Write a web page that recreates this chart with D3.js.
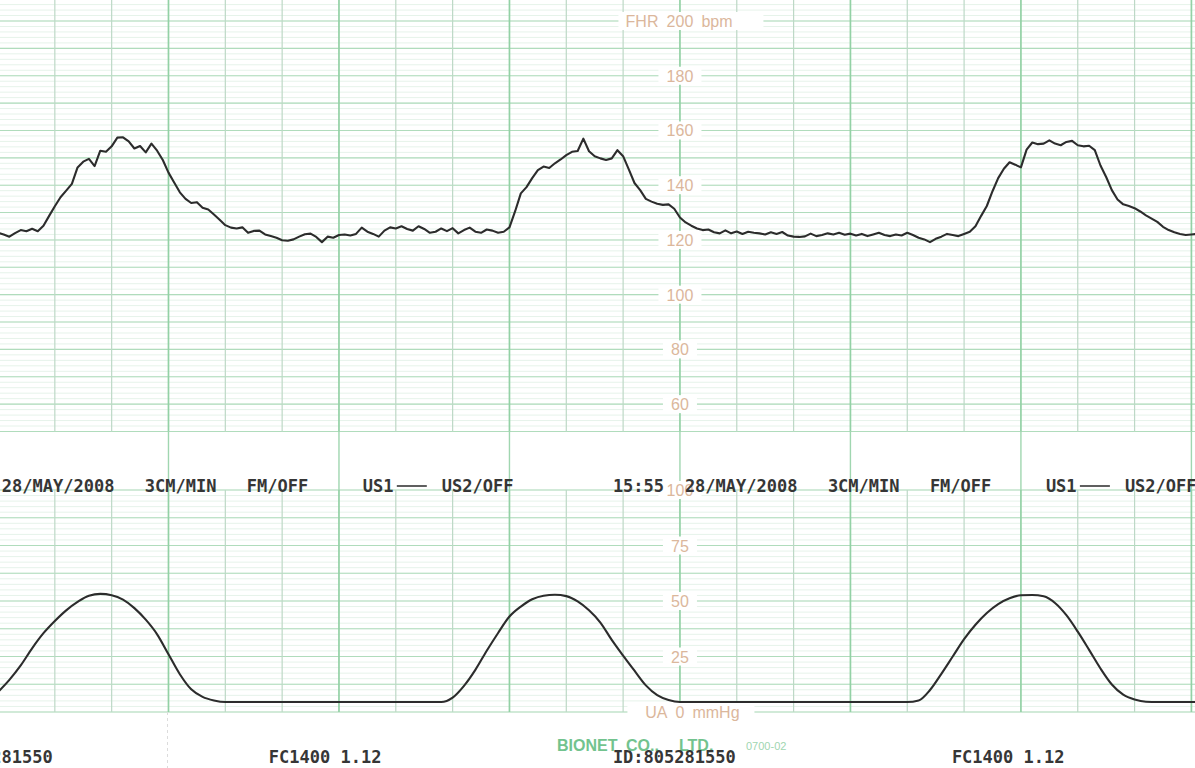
<!DOCTYPE html>
<html>
<head>
<meta charset="utf-8">
<script src="https://cdn.jsdelivr.net/npm/d3@7"></script>
<style>
  body { margin: 0; background: #fff; }
  svg { display: block; }
</style>
</head>
<body>
<div id="chart"></div>
<script>
const w = 1195;
const h = 768;

// FHR trace, one sample every 2 s (bpm)
const fhrStep = 2;
const fhrBpm = [
  122.6, 122, 121.2, 122.5, 123.6, 123.2, 124.1, 123.2, 125.2, 128.8,
  132.3, 135.6, 138, 140.5, 146.5, 148.6, 149.6, 147, 152.6, 152.2,
  154.2, 157.4, 157.5, 156, 153.4, 154.3, 152, 155.2, 152.6, 149.2,
  144.6, 141, 137.4, 135, 133.5, 133.8, 131.8, 131.1, 129.3, 127.4,
  125.4, 124.5, 124.2, 124.6, 122.6, 123.3, 123.4, 122, 121.4, 120.8,
  119.9, 119.7, 120.2, 121.2, 122.1, 122.3, 121.1, 119.2, 121.2, 120.8,
  121.8, 122, 121.6, 122.2, 124.5, 123, 122.2, 121.2, 123.4, 124.6,
  124.2, 125, 124, 123.4, 125, 124, 122.6, 123, 124.2, 123.2,
  124.3, 122.4, 123.6, 124.5, 123, 122.6, 123.8, 123.4, 122.6, 123,
  124.6, 130.5, 137, 139.3, 142.6, 145.5, 146.8, 146.3, 148, 149.4,
  151, 152.2, 152.5, 157, 152.4, 150.6, 149.8, 149.2, 149.8, 152.8,
  150.6, 145.8, 140.8, 138.2, 135, 134, 133.2, 132.8, 133, 131.4,
  128.2, 126.4, 125.2, 124.2, 123.6, 123.8, 122.8, 122.4, 123.5, 122.4,
  123.1, 122.2, 123, 122.6, 122.4, 122, 122.8, 122.2, 122.9, 121.6,
  121.2, 121.1, 121.3, 122.3, 121.4, 121.8, 122.4, 122, 122.6, 121.9,
  122.3, 121.6, 122.2, 121.4, 122, 122.6, 121.8, 121.4, 122, 121.6,
  122.6, 121.8, 120.8, 120.2, 119.2, 120.4, 121.2, 122.2, 121.8, 121.4,
  122.2, 123, 125, 128.8, 132.4, 137.8, 142.6, 146, 148.4, 147.5,
  146.5, 153, 155.6, 155, 155.2, 156.4, 155.2, 154.6, 155.8, 156.2,
  154.6, 154.2, 154.4, 152.8, 147.2, 143, 138.2, 134.8, 133, 132.4,
  131.6, 130.4, 129, 127.8, 126.6, 124.8, 123.6, 122.8, 122.2, 121.8,
  122, 122.2
];

// uterine activity, one sample every 4 s (mmHg)
const uaStep = 4;
const uaMmHg = [
  9, 14.5, 21, 28.7, 35.5, 41, 45.8, 49.6, 52.4, 53.2,
  52.6, 50.6, 46.8, 41.6, 35, 26, 17, 10.2, 6.8, 5.2,
  4.5, 4.5, 4.5, 4.5, 4.5, 4.5, 4.5, 4.5, 4.5, 4.5,
  4.5, 4.5, 4.5, 4.5, 4.5, 4.5, 4.5, 4.5, 4.5, 4.5,
  6.5, 11.8, 19, 27.6, 35.6, 43, 47.5, 50.8, 52.4, 52.8,
  52.2, 49.8, 45.8, 40.3, 32.5, 25.4, 18.6, 12, 7.6, 5.4,
  4.5, 4.5, 4.5, 4.5, 4.5, 4.5, 4.5, 4.5, 4.5, 4.5,
  4.5, 4.5, 4.5, 4.5, 4.5, 4.5, 4.5, 4.5, 4.5, 4.5,
  4.5, 5.2, 9.9, 17.2, 25, 32.8, 39.3, 44.6, 48.6, 51.2,
  52.6, 52.7, 52.1, 49.1, 43.6, 36.2, 28, 19.6, 12.4, 7.8,
  5.6, 4.6, 4.5, 4.5, 4.5, 4.5, 4.5
];

// scale labels printed on the paper
const fhrTicks = [200, 180, 160, 140, 120, 100, 80, 60];
const uaTicks = [100, 75, 50, 25, 0];

// printer annotations (seconds where each stamp starts)
const stampTimes = [-24, 216.4];
const stampClock = ['15:51', '15:55'];
const headerFields = ['28/MAY/2008', '3CM/MIN', 'FM/OFF', 'US1', 'US2/OFF'];
const footerFields = ['ID:805281550', 'FC1400 1.12'];

// layout
const headerOffsets = [72, 215, 317, 433, 512];
const footerOffsets = [0, 339];
const labelTime = 240;

const svg = d3
  .select('#chart')
  .append('svg')
  .attr('width', w)
  .attr('height', h)
  .style('background-color', '#fff');

const x = d3.scaleLinear().domain([0, 421.3]).range([-2, 1195.1]);
const yF = d3.scaleLinear().domain([50, 200]).range([431.5, 21]);
const yU = d3.scaleLinear().domain([0, 100]).range([712, 490]);

const grid = svg.append('g').attr('id', 'grid');

// faint 1 mm lines
grid
  .selectAll('line.fF')
  .data(d3.range(50, 208, 2))
  .enter()
  .append('line')
  .attr('x1', 0)
  .attr('x2', w)
  .attr('y1', d => yF(d))
  .attr('y2', d => yF(d))
  .attr('stroke', '#e6f3ea')
  .attr('stroke-width', 1);

grid
  .selectAll('line.fU')
  .data(d3.range(0, 101, 2.5))
  .enter()
  .append('line')
  .attr('x1', 0)
  .attr('x2', w)
  .attr('y1', d => yU(d))
  .attr('y2', d => yU(d))
  .attr('stroke', '#e6f3ea')
  .attr('stroke-width', 1);

// half-cm lines
grid
  .selectAll('line.mF')
  .data(d3.range(50, 208, 10))
  .enter()
  .append('line')
  .attr('x1', 0)
  .attr('x2', w)
  .attr('y1', d => yF(d))
  .attr('y2', d => yF(d))
  .attr('stroke', '#b0dcbc')
  .attr('stroke-width', 1.1);

grid
  .selectAll('line.mU')
  .data(d3.range(0, 101, 12.5))
  .enter()
  .append('line')
  .attr('x1', 0)
  .attr('x2', w)
  .attr('y1', d => yU(d))
  .attr('y2', d => yU(d))
  .attr('stroke', '#b0dcbc')
  .attr('stroke-width', 1.1);

// vertical lines, every 20 s, heavier every minute
const vTimes = d3.range(0, 422, 20);
vTimes.forEach(t => {
  const major = t % 60 === 0;
  const col = major ? '#93d1a5' : '#bdd8c6';
  const sw = major ? 1.7 : 1.2;
  grid.append('line')
    .attr('x1', x(t)).attr('x2', x(t))
    .attr('y1', 0).attr('y2', yF(50))
    .attr('stroke', col).attr('stroke-width', sw);
  grid.append('line')
    .attr('x1', x(t)).attr('x2', x(t))
    .attr('y1', yU(100)).attr('y2', yU(0))
    .attr('stroke', col).attr('stroke-width', sw);
  if (major) {
    grid.append('line')
      .attr('x1', x(t)).attr('x2', x(t))
      .attr('y1', yF(50)).attr('y2', yU(100))
      .attr('stroke', '#a0d6b0').attr('stroke-width', 1.4);
  }
});

// fold perforation below the paper grid
svg.append('line')
  .attr('x1', x(60) - 1).attr('x2', x(60) - 1)
  .attr('y1', yU(0)).attr('y2', h)
  .attr('stroke', '#dcdcdc')
  .attr('stroke-dasharray', '3,3');

// scale labels on the 4-minute line
const labelColor = '#dbb79c';
const lx = x(labelTime);
const labels = svg.append('g').attr('id', 'scale-labels')
  .style('font-family', '"Liberation Sans", Arial, sans-serif')
  .style('font-size', '16px')
  .attr('fill', labelColor);

function scaleLabel(yPos, val, pre, post) {
  const half = String(val).length * 4.5;
  let left = lx - half - 8;
  let right = lx + half + 8;
  if (pre) left = lx - half - 48;
  if (post) right = lx + half + 70;
  labels.append('rect')
    .attr('x', left).attr('y', yPos - 9)
    .attr('width', right - left).attr('height', 18)
    .attr('fill', '#fff');
  labels.append('text')
    .attr('x', lx).attr('y', yPos + 6)
    .attr('text-anchor', 'middle')
    .text(val);
  if (pre) {
    labels.append('text')
      .attr('x', lx - half - 8).attr('y', yPos + 6)
      .attr('text-anchor', 'end')
      .text(pre);
  }
  if (post) {
    labels.append('text')
      .attr('x', lx + half + 8).attr('y', yPos + 6)
      .text(post);
  }
}

fhrTicks.forEach(v => {
  if (v === 200) scaleLabel(yF(v), v, 'FHR', 'bpm');
  else scaleLabel(yF(v), v);
});
uaTicks.forEach(v => {
  if (v === 0) scaleLabel(yU(v), v, 'UA', 'mmHg');
  else scaleLabel(yU(v), v);
});

// pre-printed maker line
const maker = svg.append('g')
  .attr('fill', '#72c38e')
  .style('font-family', '"Liberation Sans", Arial, sans-serif');
maker.append('text')
  .attr('x', 557).attr('y', 751)
  .style('font-size', '16px').style('font-weight', 'bold')
  .text('BIONET');
maker.append('text')
  .attr('x', 626).attr('y', 751)
  .style('font-size', '16px').style('font-weight', 'bold')
  .text('CO.,');
maker.append('text')
  .attr('x', 679).attr('y', 751)
  .style('font-size', '16px').style('font-weight', 'bold')
  .text('LTD.');
maker.append('text')
  .attr('x', 746).attr('y', 750)
  .style('font-size', '11px')
  .attr('fill', '#9fd6b1')
  .text('0700-02');

// traces
const fhrLine = d3.line()
  .x((d, i) => x(i * fhrStep))
  .y(d => yF(d));

svg.append('path')
  .datum(fhrBpm)
  .attr('d', fhrLine)
  .attr('fill', 'none')
  .attr('stroke', '#2c2c2c')
  .attr('stroke-width', 2.1)
  .attr('stroke-linejoin', 'round');

const uaLine = d3.line()
  .x((d, i) => x(i * uaStep))
  .y(d => yU(d))
  .curve(d3.curveMonotoneX);

svg.append('path')
  .datum(uaMmHg)
  .attr('d', uaLine)
  .attr('fill', 'none')
  .attr('stroke', '#2c2c2c')
  .attr('stroke-width', 2.1);

// printer text
const printer = svg.append('g')
  .attr('fill', '#363636')
  .style('font-family', '"DejaVu Sans Mono", "Liberation Mono", monospace')
  .style('font-weight', 'bold')
  .style('font-size', '17px');

stampTimes.forEach((t, k) => {
  const sx = x(t) - x(0) - 2;
  printer.append('text').attr('x', sx).attr('y', 492).text(stampClock[k]);
  headerFields.forEach((f, j) => {
    printer.append('text')
      .attr('x', sx + headerOffsets[j])
      .attr('y', 492)
      .text(f);
  });
  printer.append('line')
    .attr('x1', sx + 467).attr('x2', sx + 497)
    .attr('y1', 486).attr('y2', 486)
    .attr('stroke', '#363636').attr('stroke-width', 1.6);
  footerFields.forEach((f, j) => {
    printer.append('text')
      .attr('x', sx + footerOffsets[j])
      .attr('y', 763)
      .text(f);
  });
});
</script>
</body>
</html>
